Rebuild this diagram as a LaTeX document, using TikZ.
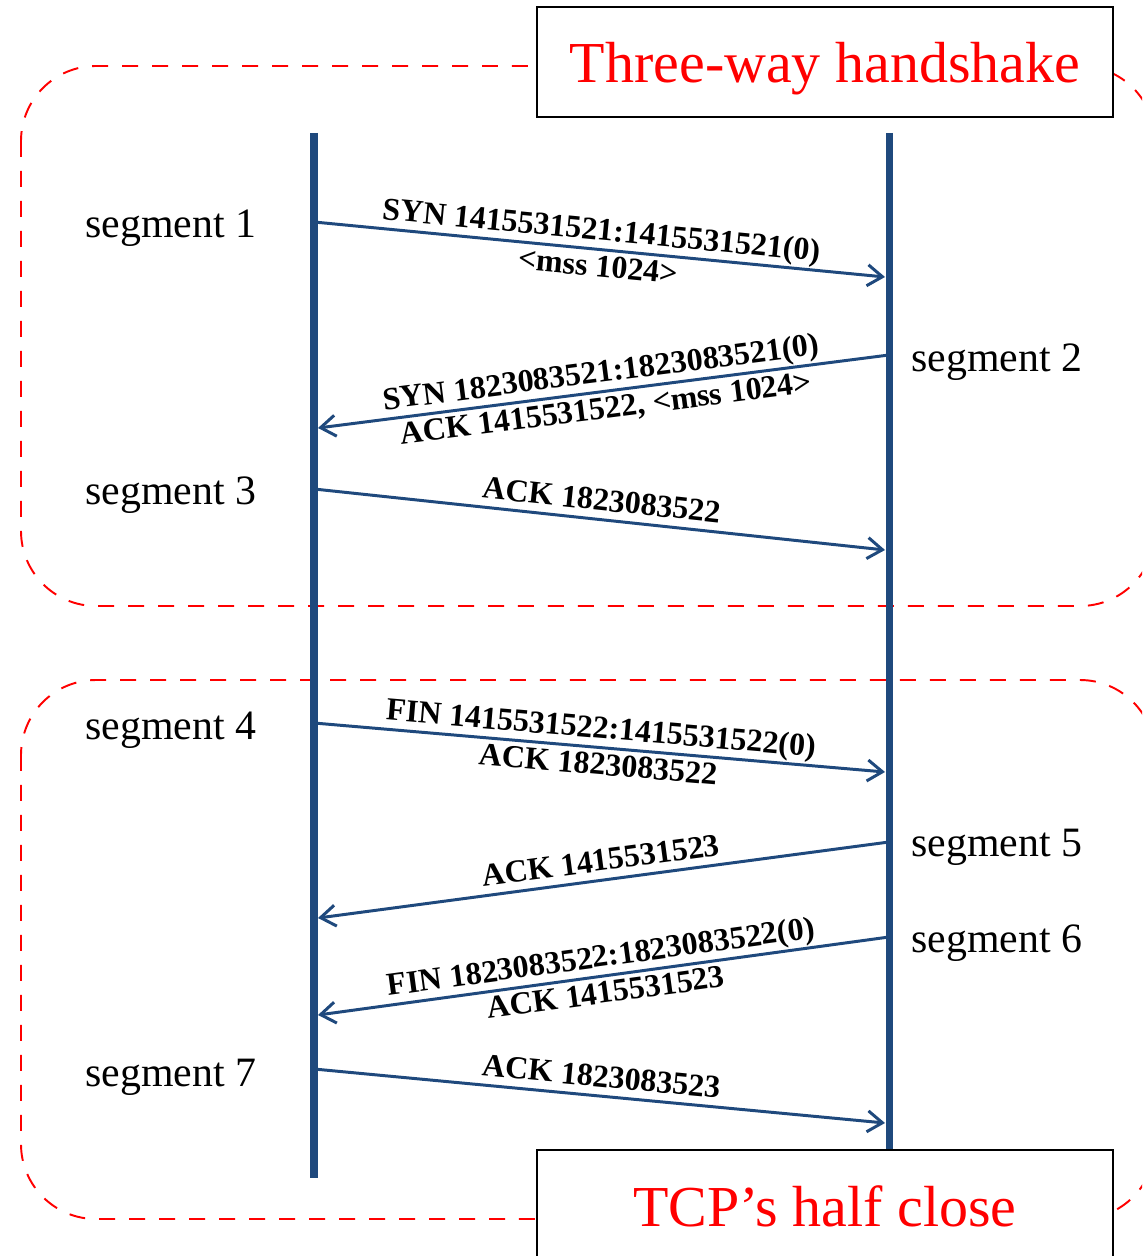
\documentclass[tikz,border=0pt]{standalone}
\usepackage{fontspec}
\setmainfont{Liberation Serif}
\usepackage{tikz}
\usetikzlibrary{arrows.meta}
\definecolor{lifeblue}{RGB}{31,73,125}

\begin{document}
\begin{tikzpicture}[x=0.02cm, y=-0.02cm,
    lifeline/.style={line width=4pt, lifeblue},
    msg/.style={line width=1.7pt, lifeblue, -{Straight Barb[length=0.3cm, width=0.42cm]}},
    msgtext/.style={font=\bfseries\fontsize{18.2}{22}\selectfont, text=black, sloped, inner sep=1pt, text depth=0.12cm},
    msgunder/.style={msgtext, inner sep=2.5pt},
    seglabel/.style={font=\fontsize{23.8}{28}\selectfont, anchor=base west, inner sep=0pt},
    phasebox/.style={draw=red, dash pattern=on 0.32cm off 0.28cm, line width=1.1pt, rounded corners=1.5cm},
    titlebox/.style={draw=black, line width=1.1pt, fill=white, text=red, font=\fontsize{33}{40}\selectfont,
        minimum width=11.52cm, minimum height=2.2cm, text height=1cm, text depth=0.16cm, inner sep=0pt}]

    % Page frame (the picture is cut at its edges)
    \useasboundingbox (0,0) rectangle (1142,1256);
    \clip (0,0) rectangle (1142,1256);

    % Dashed phase frames
    \draw[phasebox] (21,66) rectangle (1155,606);
    \draw[phasebox] (21,680) rectangle (1155,1219);

    % Lifelines
    \coordinate (cliTop) at (314,133);
    \coordinate (cliEnd) at (314,1178);
    \coordinate (srvTop) at (889,133);
    \coordinate (srvEnd) at (889,1178);
    \draw[lifeline] (cliTop) -- (cliEnd);
    \draw[lifeline] (srvTop) -- (srvEnd);

    % End points of the segments on the lifelines
    \coordinate (L1) at (314,222);  \coordinate (R1) at (885,277);
    \coordinate (R2) at (889,355);  \coordinate (L2) at (318,428);
    \coordinate (L3) at (314,489);  \coordinate (R3) at (885,550);
    \coordinate (L4) at (314,723);  \coordinate (R4) at (885,772);
    \coordinate (R5) at (889,842);  \coordinate (L5) at (318,918);
    \coordinate (R6) at (889,937);  \coordinate (L6) at (318,1015);
    \coordinate (L7) at (314,1069); \coordinate (R7) at (885,1123);

    % Three-way handshake
    \draw[msg] (L1) -- (R1)
        node[msgtext, midway, above] (m1a) {SYN 1415531521:1415531521(0)}
        node[msgunder, midway, below] (m1b) {<mss 1024>};
    \draw[msg] (R2) -- (L2)
        node[msgtext, midway, above] (m2a) {SYN 1823083521:1823083521(0)}
        node[msgunder, midway, below] (m2b) {ACK 1415531522, <mss 1024>};
    \draw[msg] (L3) -- (R3)
        node[msgtext, midway, above] (m3a) {ACK 1823083522};

    % Half close
    \draw[msg] (L4) -- (R4)
        node[msgtext, midway, above] (m4a) {FIN 1415531522:1415531522(0)}
        node[msgunder, midway, below] (m4b) {ACK 1823083522};
    \draw[msg] (R5) -- (L5)
        node[msgtext, midway, above] (m5a) {ACK 1415531523};
    \draw[msg] (R6) -- (L6)
        node[msgtext, midway, above] (m6a) {FIN 1823083522:1823083522(0)}
        node[msgunder, midway, below] (m6b) {ACK 1415531523};
    \draw[msg] (L7) -- (R7)
        node[msgtext, midway, above] (m7a) {ACK 1823083523};

    % Segment names
    \node[seglabel] (seg1) at (85,238) {segment 1};
    \node[seglabel] (seg2) at (911,372) {segment 2};
    \node[seglabel] (seg3) at (85,504) {segment 3};
    \node[seglabel] (seg4) at (85,739) {segment 4};
    \node[seglabel] (seg5) at (911,856) {segment 5};
    \node[seglabel] (seg6) at (911,952) {segment 6};
    \node[seglabel] (seg7) at (85,1086) {segment 7};

    % Titles
    \node[titlebox] (handshake) at (825,62) {Three-way handshake};
    \node[titlebox] (halfclose) at (825,1205) {TCP's half close};
\end{tikzpicture}
\end{document}
